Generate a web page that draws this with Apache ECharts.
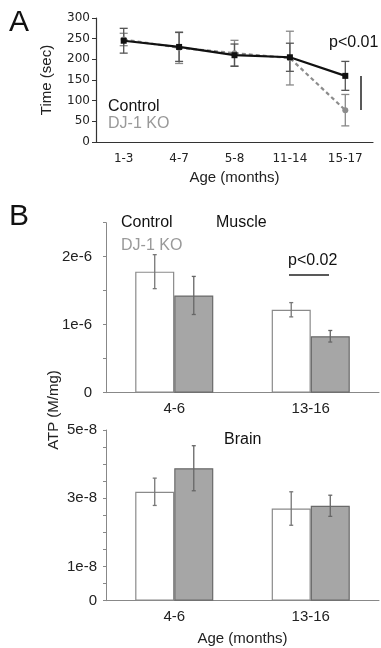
<!DOCTYPE html>
<html>
<head>
<meta charset="utf-8">
<script src="https://cdn.jsdelivr.net/npm/echarts@6/dist/echarts.min.js"></script>
<style>
  html, body { margin: 0; padding: 0; background: #fff; }
  #chart { width: 381px; height: 648px; }
</style>
</head>
<body>
<div id="chart"></div>
<script>
// panel A: rotarod time
const ageA = ['1-3', '4-7', '5-8', '11-14', '15-17'];
const timeCtrl = [245, 230, 210, 205, 160];
const timeCtrlErr = [30, 35, 27, 34, 35];
const timeKo = [248, 228, 215, 203, 77];
const timeKoErr = [15, 38, 31, 65, 38];

// panel B: ATP (muscle in 1e-6 M/mg, brain in 1e-8 M/mg)
const ageB = ['4-6', '13-16'];
const muscleCtrl = [1.78, 1.22];
const muscleCtrlErr = [0.25, 0.105];
const muscleKo = [1.43, 0.83];
const muscleKoErr = [0.28, 0.085];
const brainCtrl = [3.19, 2.70];
const brainCtrlErr = [0.40, 0.49];
const brainKo = [3.88, 2.78];
const brainKoErr = [0.66, 0.31];

const font = 'Liberation Sans, Arial, sans-serif';
const chart = echarts.init(document.getElementById('chart'));

function errData(mean, err) {
  return mean.map((m, i) => [i, m - err[i], m + err[i]]);
}

function errSeries(xi, yi, mean, err, color, cap, shift) {
  return {
    type: 'custom',
    xAxisIndex: xi,
    yAxisIndex: yi,
    z: 5,
    silent: true,
    data: errData(mean, err),
    renderItem: (params, api) => {
      const bw = api.size([1, 0])[0];
      const dx = shift * bw;
      const lo = api.coord([api.value(0), api.value(1)]);
      const hi = api.coord([api.value(0), api.value(2)]);
      const x = lo[0] + dx;
      const style = { stroke: color, lineWidth: 1.3 };
      return {
        type: 'group',
        children: [
          { type: 'line', shape: { x1: x, y1: lo[1], x2: x, y2: hi[1] }, style },
          { type: 'line', shape: { x1: x - cap, y1: lo[1], x2: x + cap, y2: lo[1] }, style },
          { type: 'line', shape: { x1: x - cap, y1: hi[1], x2: x + cap, y2: hi[1] }, style }
        ]
      };
    }
  };
}

const barW = 0.286;

const option = {
  animation: false,
  grid: [
    { left: 96, right: 8, top: 18, bottom: 506 },
    { left: 106, right: 2, top: 222.7, bottom: 255.3 },
    { left: 106, right: 2, top: 430, bottom: 47.3 }
  ],
  xAxis: [
    {
      gridIndex: 0, type: 'category', data: ageA,
      name: 'Age (months)', nameLocation: 'middle', nameGap: 28,
      nameTextStyle: { fontFamily: font, fontSize: 15, color: '#222' },
      axisLine: { lineStyle: { color: '#333', width: 1.2 } },
      axisTick: { length: 4, lineStyle: { color: '#333' } },
      axisLabel: { fontFamily: 'DejaVu Sans', fontSize: 12, color: '#222', margin: 11 }
    },
    {
      gridIndex: 1, type: 'category', data: ageB,
      axisLine: { lineStyle: { color: '#888' } },
      axisTick: { length: 2, lineStyle: { color: '#888' } },
      axisLabel: { fontFamily: font, fontSize: 15, color: '#222', margin: 9 }
    },
    {
      gridIndex: 2, type: 'category', data: ageB,
      name: 'Age (months)', nameLocation: 'middle', nameGap: 31,
      nameTextStyle: { fontFamily: font, fontSize: 15, color: '#222' },
      axisLine: { lineStyle: { color: '#888' } },
      axisTick: { length: 2, lineStyle: { color: '#888' } },
      axisLabel: { fontFamily: font, fontSize: 15, color: '#222', margin: 9 }
    }
  ],
  yAxis: [
    {
      gridIndex: 0, type: 'value', min: 0, max: 300, interval: 50,
      name: 'Time (sec)', nameLocation: 'middle', nameGap: 42,
      nameTextStyle: { fontFamily: font, fontSize: 15, color: '#222' },
      axisLine: { show: true, lineStyle: { color: '#333', width: 1.2 } },
      axisTick: { show: true, length: 4, lineStyle: { color: '#333' } },
      axisLabel: { fontFamily: 'DejaVu Sans', fontSize: 12, color: '#222', margin: 6 },
      splitLine: { show: false }
    },
    {
      gridIndex: 1, type: 'value', min: 0, max: 2.5, interval: 0.5,
      axisLine: { show: true, lineStyle: { color: '#888' } },
      axisTick: { show: true, length: 3, lineStyle: { color: '#888' } },
      axisLabel: {
        fontFamily: font, fontSize: 15, color: '#222', margin: 14,
        formatter: v => v === 0 ? '0' : (Number.isInteger(v) ? v + 'e-6' : '')
      },
      splitLine: { show: false }
    },
    {
      gridIndex: 2, type: 'value', min: 0, max: 5, interval: 0.5,
      axisLine: { show: true, lineStyle: { color: '#888' } },
      axisTick: { show: true, length: 3, lineStyle: { color: '#888' } },
      axisLabel: {
        fontFamily: font, fontSize: 15, color: '#222', margin: 9,
        formatter: v => v === 0 ? '0' : ([1, 3, 5].includes(v) ? v + 'e-8' : '')
      },
      splitLine: { show: false }
    }
  ],
  series: [
    errSeries(0, 0, timeKo, timeKoErr, '#888', 4, 0),
    errSeries(0, 0, timeCtrl, timeCtrlErr, '#555', 4, 0),
    {
      name: 'DJ-1 KO', type: 'line', xAxisIndex: 0, yAxisIndex: 0, data: timeKo,
      symbol: 'circle', symbolSize: 6, z: 6,
      itemStyle: { color: '#8c8c8c' },
      lineStyle: { color: '#8c8c8c', width: 2.2, type: [4, 3] }
    },
    {
      name: 'Control', type: 'line', xAxisIndex: 0, yAxisIndex: 0, data: timeCtrl,
      symbol: 'rect', symbolSize: 6, z: 7,
      itemStyle: { color: '#111' },
      lineStyle: { color: '#111', width: 2.2 }
    },
    {
      name: 'Control', type: 'bar', xAxisIndex: 1, yAxisIndex: 1, data: muscleCtrl,
      barWidth: '28.6%', barGap: '0%',
      itemStyle: { color: '#fff', borderColor: '#8a8a8a', borderWidth: 1.2 }
    },
    {
      name: 'DJ-1 KO', type: 'bar', xAxisIndex: 1, yAxisIndex: 1, data: muscleKo,
      barWidth: '28.6%', barGap: '0%',
      itemStyle: { color: '#a6a6a6', borderColor: '#6a6a6a', borderWidth: 1.2 }
    },
    errSeries(1, 1, muscleCtrl, muscleCtrlErr, '#777', 2, -barW / 2),
    errSeries(1, 1, muscleKo, muscleKoErr, '#666', 2, barW / 2),
    {
      name: 'Control', type: 'bar', xAxisIndex: 2, yAxisIndex: 2, data: brainCtrl,
      barWidth: '28.6%', barGap: '0%',
      itemStyle: { color: '#fff', borderColor: '#8a8a8a', borderWidth: 1.2 }
    },
    {
      name: 'DJ-1 KO', type: 'bar', xAxisIndex: 2, yAxisIndex: 2, data: brainKo,
      barWidth: '28.6%', barGap: '0%',
      itemStyle: { color: '#a6a6a6', borderColor: '#6a6a6a', borderWidth: 1.2 }
    },
    errSeries(2, 2, brainCtrl, brainCtrlErr, '#777', 2, -barW / 2),
    errSeries(2, 2, brainKo, brainKoErr, '#666', 2, barW / 2)
  ],
  graphic: [
    { type: 'text', left: 9, top: 8, style: { text: 'A', font: '30px ' + font, fill: '#111' } },
    { type: 'text', left: 9, top: 202, style: { text: 'B', font: '30px ' + font, fill: '#111' } },
    { type: 'text', left: 108, top: 99, style: { text: 'Control', font: '16px ' + font, fill: '#111' } },
    { type: 'text', left: 108, top: 116, style: { text: 'DJ-1 KO', font: '16px ' + font, fill: '#999' } },
    { type: 'text', left: 329, top: 35, style: { text: 'p<0.01', font: '16px ' + font, fill: '#111' } },
    { type: 'line', shape: { x1: 361, y1: 76, x2: 361, y2: 110 }, style: { stroke: '#222', lineWidth: 1.5 } },
    { type: 'text', left: 121, top: 215, style: { text: 'Control', font: '16px ' + font, fill: '#111' } },
    { type: 'text', left: 121, top: 238, style: { text: 'DJ-1 KO', font: '16px ' + font, fill: '#999' } },
    { type: 'text', left: 216, top: 215, style: { text: 'Muscle', font: '16px ' + font, fill: '#111' } },
    { type: 'text', left: 288, top: 253, style: { text: 'p<0.02', font: '16px ' + font, fill: '#111' } },
    { type: 'line', shape: { x1: 289, y1: 275, x2: 329, y2: 275 }, style: { stroke: '#222', lineWidth: 1.5 } },
    { type: 'text', left: 224, top: 432, style: { text: 'Brain', font: '16px ' + font, fill: '#111' } },
    {
      type: 'text', x: 54, y: 410, rotation: Math.PI / 2,
      style: { text: 'ATP (M/mg)', font: '15px ' + font, fill: '#222', align: 'center', verticalAlign: 'middle' }
    }
  ]
};

chart.setOption(option);
</script>
</body>
</html>
